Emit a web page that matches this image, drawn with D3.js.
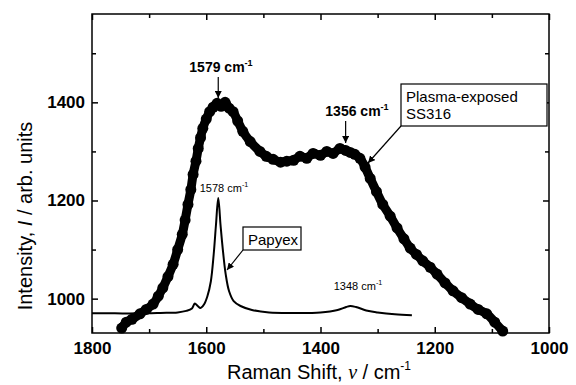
<!DOCTYPE html>
<html>
<head>
<meta charset="utf-8">
<script src="https://cdn.jsdelivr.net/npm/d3@7"></script>
<style>
  body { margin: 0; background: #fff; }
  svg { display: block; font-family: "Liberation Sans", Arial, sans-serif; }
</style>
</head>
<body>
<svg id="chart" width="576" height="385"></svg>
<script>
// plasma-exposed SS316 spectrum
const ssShift = [1748, 1740, 1730, 1716, 1705, 1693, 1684, 1676, 1667, 1658, 1650, 1642, 1637, 1632, 1627, 1623, 1618, 1614, 1610, 1606, 1600, 1594, 1588, 1581, 1574, 1567, 1560, 1553, 1545, 1536, 1523, 1506, 1495, 1483, 1470, 1459, 1447, 1436, 1424, 1413, 1400, 1389, 1378, 1366, 1356, 1348, 1340, 1331, 1322, 1313, 1302, 1291, 1278, 1266, 1254, 1243, 1232, 1221, 1208, 1196, 1182, 1168, 1153, 1138, 1124, 1109, 1095, 1081];
const ssInt = [940, 952, 958, 969, 978, 989, 1005, 1022, 1045, 1070, 1100, 1131, 1160, 1192, 1222, 1253, 1280, 1306, 1328, 1347, 1366, 1381, 1390, 1398, 1392, 1400, 1388, 1381, 1362, 1341, 1320, 1300, 1290, 1284, 1278, 1280, 1282, 1290, 1286, 1296, 1292, 1300, 1296, 1306, 1302, 1298, 1294, 1286, 1268, 1245, 1218, 1192, 1168, 1144, 1122, 1103, 1090, 1077, 1064, 1050, 1032, 1016, 1002, 989, 978, 969, 952, 934];

// Papyex spectrum
const papShift = [1800, 1760, 1720, 1680, 1650, 1635, 1625, 1620, 1615, 1610, 1604, 1598, 1592, 1587, 1583, 1579, 1575, 1571, 1566, 1560, 1552, 1540, 1520, 1490, 1450, 1400, 1370, 1355, 1348, 1338, 1320, 1300, 1270, 1240];
const papInt = [970, 970, 970, 971, 972, 975, 980, 990, 985, 981, 988, 1005, 1035, 1090, 1150, 1205, 1150, 1100, 1050, 1015, 995, 985, 977, 972, 971, 972, 977, 983, 985, 983, 976, 972, 968, 966];

const xMajor = [1800, 1600, 1400, 1200, 1000];
const xMinor = [1700, 1500, 1300, 1100];
const yMajor = [1000, 1200, 1400];
const yMinor = [1100, 1300, 1500];

const svg = d3.select('#chart');
const L = 92, R = 549, T = 14, B = 333;

const x = d3.scaleLinear().domain([1800, 1000]).range([L, R]);
const y = d3.scaleLinear().domain([930, 1580]).range([B, T]);

// frame
svg.append('rect').attr('x', L).attr('y', T).attr('width', R - L).attr('height', B - T)
  .attr('fill', 'none').attr('stroke', '#000').attr('stroke-width', 1.5);

function axisGroup(axis, tx, ty) {
  const g = svg.append('g').attr('transform', `translate(${tx},${ty})`).call(axis);
  g.select('.domain').remove();
  g.selectAll('line').attr('stroke', '#000').attr('stroke-width', 1.5);
  return g;
}

const bx = axisGroup(d3.axisBottom(x).tickValues(xMajor).tickSize(-6).tickPadding(9).tickFormat(d3.format('d')), 0, B);
bx.selectAll('text').attr('font-size', 17).attr('font-weight', 'bold').attr('fill', '#000');
axisGroup(d3.axisBottom(x).tickValues(xMinor).tickSize(-4).tickFormat(''), 0, B);
axisGroup(d3.axisTop(x).tickValues(xMajor).tickSize(-6).tickFormat(''), 0, T);
axisGroup(d3.axisTop(x).tickValues(xMinor).tickSize(-4).tickFormat(''), 0, T);

const ly = axisGroup(d3.axisLeft(y).tickValues(yMajor).tickSize(-6).tickPadding(7).tickFormat(d3.format('d')), L, 0);
ly.selectAll('text').attr('font-size', 17).attr('font-weight', 'bold').attr('fill', '#000');
axisGroup(d3.axisLeft(y).tickValues(yMinor).tickSize(-4).tickFormat(''), L, 0);
axisGroup(d3.axisRight(y).tickValues(yMajor).tickSize(-6).tickFormat(''), R, 0);
axisGroup(d3.axisRight(y).tickValues(yMinor).tickSize(-4).tickFormat(''), R, 0);

// axis titles
const xt = svg.append('text').attr('x', 319).attr('y', 379).attr('text-anchor', 'middle')
  .attr('font-size', 20);
xt.append('tspan').text('Raman Shift, ');
xt.append('tspan').attr('font-style', 'italic').attr('font-family', 'Liberation Serif, serif').text('\u03bd');
xt.append('tspan').text(' / cm');
xt.append('tspan').attr('font-size', 12).attr('dy', -9).text('-1');

const yt = svg.append('text').attr('transform', 'translate(32,216) rotate(-90)').attr('text-anchor', 'middle')
  .attr('font-size', 20);
yt.append('tspan').text('Intensity, ');
yt.append('tspan').attr('font-style', 'italic').text('I');
yt.append('tspan').text(' / arb. units');

// data
const plot = svg.append('g');
const ssData = ssShift.map((s, i) => [s, ssInt[i]]);
const papData = papShift.map((s, i) => [s, papInt[i]]);

const line = d3.line().x(d => x(d[0])).y(d => y(d[1])).curve(d3.curveCatmullRom);

plot.append('path').attr('d', line(papData)).attr('fill', 'none')
  .attr('stroke', '#000').attr('stroke-width', 2).attr('stroke-linejoin', 'round');

plot.append('path').attr('d', line(ssData)).attr('fill', 'none')
  .attr('stroke', '#000').attr('stroke-width', 9).attr('stroke-linecap', 'round').attr('stroke-linejoin', 'round');
plot.selectAll('circle.ss').data(ssData).join('circle').attr('class', 'ss')
  .attr('cx', d => x(d[0])).attr('cy', d => y(d[1])).attr('r', 5.5).attr('fill', '#000');

// arrow marker
svg.append('defs').append('marker').attr('id', 'arr').attr('viewBox', '0 0 10 10')
  .attr('refX', 10).attr('refY', 5).attr('markerWidth', 7).attr('markerHeight', 7)
  .attr('markerUnits', 'userSpaceOnUse').attr('orient', 'auto')
  .append('path').attr('d', 'M0,0L10,5L0,10z').attr('fill', '#000');

function label(txt, cx, cy, size, bold) {
  const t = svg.append('text').attr('x', cx).attr('y', cy).attr('text-anchor', 'middle')
    .attr('font-size', size).attr('font-weight', bold ? 'bold' : 'normal');
  t.append('tspan').text(txt + ' cm');
  t.append('tspan').attr('font-size', size * 0.65).attr('dy', -size * 0.42).text('-1');
}

function arrow(x1, y1, x2, y2) {
  svg.append('line').attr('x1', x1).attr('y1', y1).attr('x2', x2).attr('y2', y2)
    .attr('stroke', '#000').attr('stroke-width', 1.2).attr('marker-end', 'url(#arr)');
}

label('1579', 221, 72, 14, true);
arrow(x(1579), 77, x(1579), 98);
label('1356', 357, 116, 14, true);
arrow(x(1356), 121, x(1356), 143);
label('1578', 224, 192, 11, false);
label('1348', 358, 290, 11, false);

// boxes
function box(lines, bx0, by0, w, h) {
  svg.append('rect').attr('x', bx0).attr('y', by0).attr('width', w).attr('height', h)
    .attr('fill', '#fff').attr('stroke', '#000').attr('stroke-width', 1.2);
  lines.forEach((s, i) => {
    svg.append('text').attr('x', bx0 + 5).attr('y', by0 + 18 + i * 17).attr('font-size', 15).text(s);
  });
}
box(['Plasma-exposed', 'SS316'], 401, 84, 146, 42);
arrow(401, 126, 368, 163);
box(['Papyex'], 243, 227, 58, 23);
arrow(243, 250, 227, 270);
</script>
</body>
</html>
